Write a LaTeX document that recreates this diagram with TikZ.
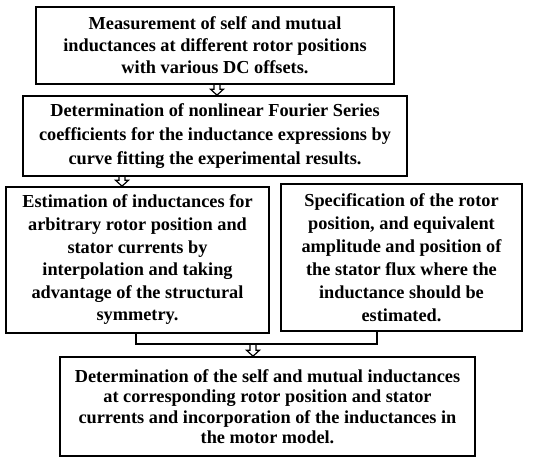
\documentclass[tikz,border=0pt]{standalone}
\usepackage{fontspec}
\setmainfont{Liberation Serif}
\usetikzlibrary{calc}
\newcommand{\hollowdown}[2]{% top coordinate, bottom coordinate
  \draw[arrowline] let \p1=(#1), \p2=(#2) in
    (\x1-3pt,\y1) -- (\x1-3pt,\y2+6pt) -- (\x1-6.5pt,\y2+6pt) -- (\x1,\y2)
    -- (\x1+6.5pt,\y2+6pt) -- (\x1+3pt,\y2+6pt) -- (\x1+3pt,\y1);}
\begin{document}
\begin{tikzpicture}[x=1pt,y=-1pt,
  box/.style={draw, line width=1.6pt, align=center, inner sep=0pt,
    font=\fontsize{18.3}{22}\selectfont\bfseries},
  arrowline/.style={line width=1.2pt, line join=miter},
  link/.style={line width=1.6pt}]
\useasboundingbox (0,0) rectangle (538,457);
\node[box, minimum width=358pt, minimum height=77pt] (b1) at (215,45.5)
  {Measurement of self and mutual\\inductances at different rotor positions\\with various DC offsets.};
\node[box, minimum width=384pt, minimum height=80pt,
  font=\fontsize{18.3}{24}\selectfont\bfseries] (b2) at (215,136)
  {Determination of nonlinear Fourier Series\\coefficients for the inductance expressions by\\curve fitting the experimental results.};
\node[box, minimum width=263pt, minimum height=146pt,
  font=\fontsize{18.3}{22.6}\selectfont\bfseries] (b3) at (137.5,260)
  {Estimation of inductances for\\arbitrary rotor position and\\stator currents by\\interpolation and taking\\advantage of the structural\\symmetry.};
\node[box, minimum width=241pt, minimum height=147pt,
  font=\fontsize{18.3}{23}\selectfont\bfseries] (b4) at (401.5,257.5)
  {Specification of the rotor\\position, and equivalent\\amplitude and position of\\the stator flux where the\\inductance should be\\estimated.};
\node[box, minimum width=415pt, minimum height=99pt,
  font=\fontsize{18.3}{20.5}\selectfont\bfseries] (b5) at (267.5,406.5)
  {Determination of the self and mutual inductances\\at corresponding rotor position and stator\\currents and incorporation of the inductances in\\the motor model.};
% arrows
\coordinate (a1t) at (b1.south -| 217,0);
\coordinate (a1b) at (b2.north -| 217,0);
\hollowdown{a1t}{a1b}
\coordinate (a2t) at (b2.south -| 122,0);
\coordinate (a2b) at (b3.north -| 122,0);
\hollowdown{a2t}{a2b}
% join
\coordinate (jl) at (136,344);
\coordinate (jr) at (377,344);
\coordinate (jm) at (253,344);
\draw[link] (b3.south -| jl) -- (jl) -- (jr) -- (b4.south -| jr);
\coordinate (a3b) at (b5.north -| jm);
\hollowdown{jm}{a3b}
\end{tikzpicture}
\end{document}
